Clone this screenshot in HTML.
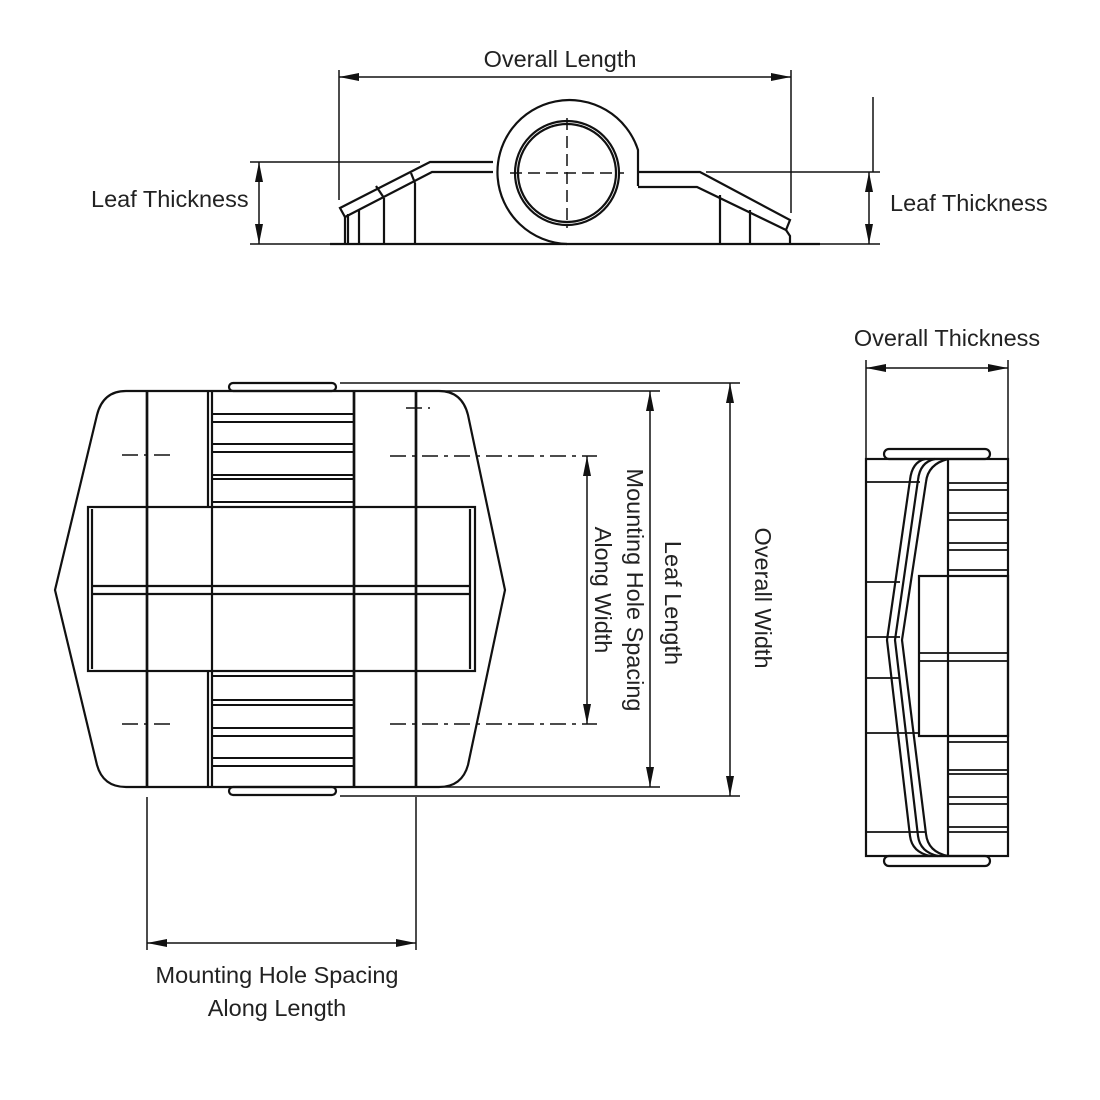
<!DOCTYPE html>
<html><head><meta charset="utf-8"><style>html,body{margin:0;padding:0;background:#fff}svg{display:block}text{font-family:"Liberation Sans",sans-serif;font-size:23.5px;fill:#222}</style></head>
<body>
<svg width="1100" height="1100" viewBox="0 0 1100 1100" xmlns="http://www.w3.org/2000/svg">
<defs>
<marker id="a" viewBox="0 0 20 8" refX="20" refY="4" markerWidth="20" markerHeight="8" markerUnits="userSpaceOnUse" orient="auto-start-reverse"><path d="M0,0 L20,4 L0,8 Z" fill="#111"/></marker>
</defs>
<g stroke="#111" fill="none" stroke-width="1.5">
<!-- TOP VIEW -->
<line x1="339" y1="70" x2="339" y2="200"/><line x1="791" y1="70" x2="791" y2="213"/>
<line x1="339" y1="77" x2="791" y2="77" marker-start="url(#a)" marker-end="url(#a)"/>
<line x1="250" y1="162" x2="420" y2="162"/><line x1="250" y1="244" x2="340" y2="244"/>
<line x1="259" y1="162" x2="259" y2="244" marker-start="url(#a)" marker-end="url(#a)"/>
<line x1="706" y1="172" x2="880" y2="172"/><line x1="790" y1="244" x2="880" y2="244"/>
<line x1="869" y1="172" x2="869" y2="244" marker-start="url(#a)" marker-end="url(#a)"/>
<line x1="873" y1="97" x2="873" y2="172"/>
<line x1="330" y1="244" x2="820" y2="244" stroke-width="2.2"/>
<g stroke-width="2.2">
<path d="M638,186 L638,150 A72,72 0 1 0 567,244"/>
<circle cx="567" cy="173" r="52"/><circle cx="567" cy="173" r="49"/>
<path d="M493,162 L430,162 L340,208 L345,217 L432,172 L493,172"/>
<path d="M638,172 L700,172 L790,220 L786,230 L697,187 L638,187"/>
<path d="M345,217 L345,244 M348,214 L348,244 M359,210 L359,244 M384,198 L384,244 M415,183 L415,244"/>
<path d="M786,230 L790,236 L790,244 M720,195 L720,244 M750,210 L750,244"/>
<line x1="384" y1="198" x2="376" y2="186"/><line x1="415" y1="183" x2="411" y2="173"/>
</g>
<line x1="567" y1="118" x2="567" y2="228" stroke-dasharray="12,6"/>
<line x1="510" y1="173" x2="624" y2="173" stroke-dasharray="12,6"/>
<!-- FRONT VIEW -->
<g stroke-width="2.2">
<path d="M126,391 L439,391 Q462,391 468,415 L505,590 L468,765 Q462,787 439,787 L126,787 Q103,787 97,765 L55,590 L97,415 Q103,391 126,391 Z"/>
<line x1="147" y1="391" x2="147" y2="787" stroke-width="2.7"/>
<line x1="208" y1="391" x2="208" y2="787"/><line x1="212" y1="391" x2="212" y2="787"/>
<line x1="354" y1="391" x2="354" y2="787" stroke-width="2.7"/>
<line x1="416" y1="391" x2="416" y2="787" stroke-width="2.7"/>
<rect x="88" y="507" width="387" height="164" fill="#fff"/>
<line x1="92" y1="509" x2="92" y2="669"/><line x1="470" y1="509" x2="470" y2="669"/>
<line x1="147" y1="507" x2="147" y2="671" stroke-width="2.7"/><line x1="212" y1="507" x2="212" y2="671"/>
<line x1="354" y1="507" x2="354" y2="671" stroke-width="2.7"/><line x1="416" y1="507" x2="416" y2="671" stroke-width="2.7"/>
<line x1="92" y1="586" x2="470" y2="586"/><line x1="92" y1="594" x2="470" y2="594"/>
<rect x="229" y="383" width="107" height="8" rx="4"/>
<rect x="229" y="787" width="107" height="8" rx="4"/>
</g>
<g stroke-width="2">
<path d="M212,414 H354 M212,422 H354 M212,444 H354 M212,452 H354 M212,475 H354 M212,479 H354 M212,502 H354"/>
<path d="M212,676 H354 M212,700 H354 M212,705 H354 M212,728 H354 M212,736 H354 M212,758 H354 M212,766 H354"/>
</g>
<g stroke-dasharray="16,6,4,6">
<line x1="122" y1="455" x2="175" y2="455"/><line x1="122" y1="724" x2="175" y2="724"/>
<line x1="390" y1="456" x2="597" y2="456"/><line x1="390" y1="724" x2="597" y2="724"/>
<line x1="406" y1="408" x2="430" y2="408"/>
</g>
<line x1="340" y1="383" x2="740" y2="383"/><line x1="340" y1="796" x2="740" y2="796"/>
<line x1="430" y1="391" x2="660" y2="391"/><line x1="430" y1="787" x2="660" y2="787"/>
<line x1="650" y1="391" x2="650" y2="787" marker-start="url(#a)" marker-end="url(#a)"/>
<line x1="730" y1="383" x2="730" y2="796" marker-start="url(#a)" marker-end="url(#a)"/>
<line x1="587" y1="456" x2="587" y2="724" marker-start="url(#a)" marker-end="url(#a)"/>
<line x1="147" y1="797" x2="147" y2="950"/><line x1="416" y1="797" x2="416" y2="950"/>
<line x1="147" y1="943" x2="416" y2="943" marker-start="url(#a)" marker-end="url(#a)"/>
<!-- SIDE VIEW -->
<line x1="866" y1="360" x2="866" y2="459"/><line x1="1008" y1="360" x2="1008" y2="459"/>
<line x1="866" y1="368" x2="1008" y2="368" marker-start="url(#a)" marker-end="url(#a)"/>
<g stroke-width="2.2">
<rect x="866" y="459" width="142" height="397"/>
<rect x="884" y="449" width="106" height="10" rx="5"/>
<rect x="884" y="856" width="106" height="10" rx="5"/>
<line x1="948" y1="459" x2="948" y2="856"/>
<path d="M925,459 Q912,462 910,480 L887,640 L910,836 Q912,852 930,856"/>
<path d="M935,459 Q920,462 918,480 L895,640 L918,836 Q920,852 938,856"/>
<path d="M948,459 Q928,464 926,482 L902,640 L926,834 Q928,852 948,856"/>
<rect x="919" y="576" width="89" height="160"/>
</g>
<g stroke-width="1.7">
<path d="M866,482 H920 M866,582 H900 M866,637 H900 M866,678 H900 M866,733 H920 M866,832 H925"/>
<path d="M948,483 H1008 M948,490 H1008 M948,513 H1008 M948,520 H1008 M948,543 H1008 M948,550 H1008 M948,570 H1008"/>
<path d="M919,653 H1008 M919,661 H1008"/>
<path d="M948,742 H1008 M948,770 H1008 M948,774 H1008 M948,797 H1008 M948,804 H1008 M948,827 H1008 M948,832 H1008"/>
</g>
</g>
<text x="560" y="67" text-anchor="middle">Overall Length</text>
<text x="91" y="207">Leaf Thickness</text>
<text x="890" y="211">Leaf Thickness</text>
<text x="947" y="346" text-anchor="middle">Overall Thickness</text>
<text x="277" y="983" text-anchor="middle">Mounting Hole Spacing</text>
<text x="277" y="1016" text-anchor="middle">Along Length</text>
<g text-anchor="middle">
<text transform="translate(755,598) rotate(90)">Overall Width</text>
<text transform="translate(665,603) rotate(90)">Leaf Length</text>
<text transform="translate(627,590) rotate(90)">Mounting Hole Spacing</text>
<text transform="translate(595,590) rotate(90)">Along Width</text>
</g>
</svg>
</body></html>
